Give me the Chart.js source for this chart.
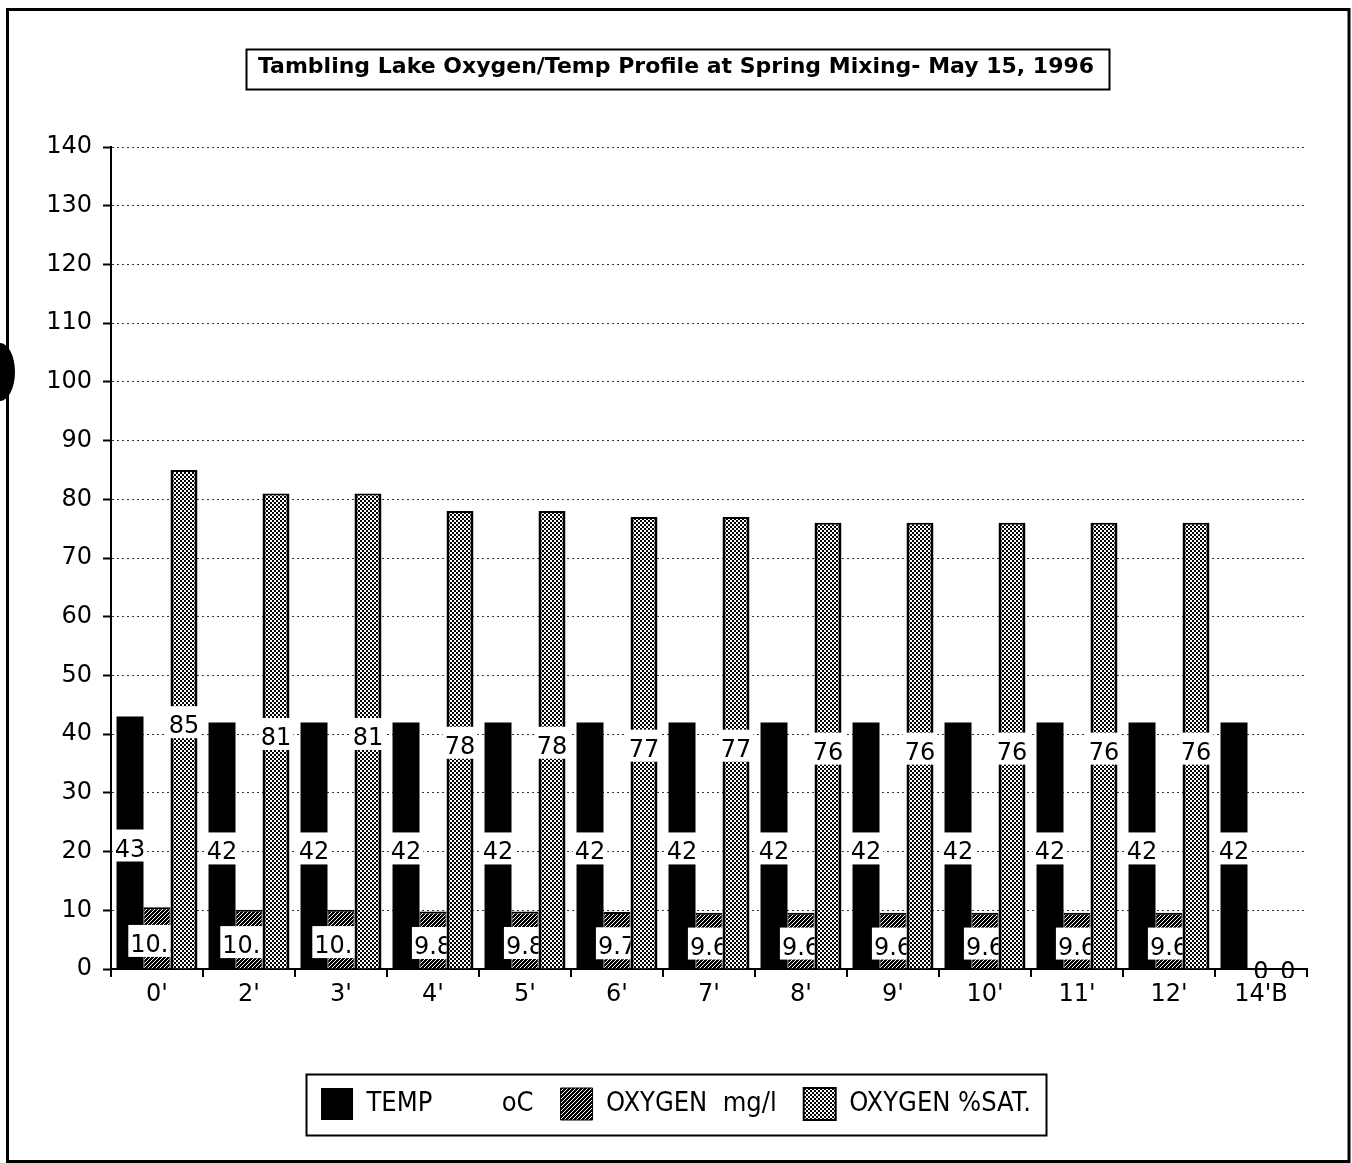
<!DOCTYPE html>
<html>
<head>
<meta charset="utf-8">
<script src="https://cdn.jsdelivr.net/npm/chart.js@4/dist/chart.umd.min.js"></script>
<style>
  html, body { margin: 0; padding: 0; background: #fff; }
  canvas { display: block; }
</style>
</head>
<body>
<canvas id="profile" width="1352" height="1163"></canvas>
<script>
// Sampling depths (feet) and the readings taken at each one
const depths = ["0'", "2'", "3'", "4'", "5'", "6'", "7'", "8'", "9'", "10'", "11'", "12'", "14'B"];
const tempC = [43, 42, 42, 42, 42, 42, 42, 42, 42, 42, 42, 42, 42];
const oxygenMgL = [10.5, 10.1, 10.1, 9.8, 9.8, 9.7, 9.6, 9.6, 9.6, 9.6, 9.6, 9.6, 0];
const oxygenSat = [85, 81, 81, 78, 78, 77, 77, 76, 76, 76, 76, 76, 0];

const seriesNames = ['TEMP         oC', 'OXYGEN  mg/l', 'OXYGEN %SAT.'];
const yMin = 0, yMax = 140, yStep = 10;
const chartTitle = 'Tambling Lake Oxygen/Temp Profile at Spring Mixing- May 15, 1996';

const BODY_FONT = '"DejaVu Sans", Verdana, sans-serif';
const NARROW_FONT = '"Liberation Sans Narrow", "DejaVu Sans Condensed", "Arial Narrow", sans-serif';
const TITLE_SIZE = 22;

const canvas = document.getElementById('profile');
const ctx = canvas.getContext('2d');

// Small repeating tiles used as bar fills
function makePattern(size, paint) {
  const tile = document.createElement('canvas');
  tile.width = size; tile.height = size;
  paint(tile.getContext('2d'));
  return ctx.createPattern(tile, 'repeat');
}
const hatchFill = makePattern(4, g => {
  g.fillStyle = '#000'; g.fillRect(0, 0, 4, 4);
  g.fillStyle = '#fff';
  for (let i = 0; i < 4; i++) g.fillRect(i, 3 - i, 1, 1);
});
const stippleFill = makePattern(4, g => {
  g.fillStyle = '#fff'; g.fillRect(0, 0, 4, 4);
  g.fillStyle = '#000';
  g.fillRect(0, 0, 2, 2); g.fillRect(2, 2, 2, 2);
});

// Value tags in white boxes, hidden where a later bar of the same group covers them
const valueLabels = {
  id: 'valueLabels',
  afterDatasetsDraw(chart) {
    const c = chart.ctx;
    const area = chart.chartArea;
    const metas = chart.data.datasets.map((d, i) => chart.getDatasetMeta(i));
    c.save();
    c.font = '24px ' + BODY_FONT;
    c.textAlign = 'center';
    c.textBaseline = 'alphabetic';
    metas.forEach((meta, di) => {
      meta.data.forEach((bar, idx) => {
        const value = chart.data.datasets[di].data[idx];
        const text = String(value);
        const w = c.measureText(text).width + 4;
        const flat = Math.abs(bar.base - bar.y) < 1;
        const baseline = (bar.y + bar.base) / 2 + (flat ? 10 : 14);
        c.save();
        c.beginPath();
        c.rect(area.left, area.top, area.right - area.left, area.bottom + (flat ? 9 : -1) - area.top);
        for (let k = di + 1; k < metas.length; k++) {
          const b = metas[k].data[idx];
          if (Math.abs(b.base - b.y) < 1) continue;
          c.rect(b.x - b.width / 2, b.y, b.width, b.base - b.y);
        }
        c.clip('evenodd');
        if (!flat) {
          c.fillStyle = '#fff';
          c.fillRect(bar.x - w / 2, baseline - 27, w, 32);
        }
        c.fillStyle = '#000';
        c.fillText(text, bar.x, baseline);
        c.restore();
      });
    });
    c.restore();
  }
};

// Page background, outer frame and the boxes round the title and the key
const pageFrame = {
  id: 'pageFrame',
  beforeDraw(chart) {
    const c = chart.ctx;
    c.save();
    c.fillStyle = '#fff';
    c.fillRect(0, 0, chart.width, chart.height);
    c.restore();
  },
  afterDraw(chart) {
    const c = chart.ctx;
    c.save();
    c.strokeStyle = '#000';

    // title box
    const tb = chart.titleBlock;
    const tOpts = chart.options.plugins.title;
    c.font = 'bold ' + TITLE_SIZE + 'px ' + BODY_FONT;
    const tw = c.measureText(chartTitle).width;
    const cx = (tb.left + tb.right) / 2;
    const midY = tb.top + tOpts.padding.top + TITLE_SIZE * 1.2 / 2;
    c.lineWidth = 2;
    c.strokeRect(Math.round(cx - tw / 2 - 12) + 0.5, Math.round(midY - 18) + 0.5, Math.round(tw + 27), 40);

    // key box
    const hb = chart.legend.legendHitBoxes;
    if (hb && hb.length) {
      const last = hb[hb.length - 1];
      const l = hb[0].left - 15, r = last.left + last.width + 15;
      const t = hb[0].top - 14, btm = hb[0].top + hb[0].height + 15;
      c.lineWidth = 2;
      c.strokeRect(Math.round(l) + 0.5, Math.round(t) + 0.5, Math.round(r - l), Math.round(btm - t));
    }

    // outer frame
    c.lineWidth = 3;
    c.strokeRect(7.5, 9.5, 1341.5, 1152);

    // binder hole at the left margin
    c.fillStyle = '#000';
    c.beginPath();
    c.ellipse(0, 372, 15, 29, 0, 0, Math.PI * 2);
    c.fill();
    c.restore();
  }
};

new Chart(ctx, {
  type: 'bar',
  data: {
    labels: depths,
    datasets: [
      { label: seriesNames[0], data: tempC, backgroundColor: '#000', borderColor: '#000', borderWidth: 0 },
      { label: seriesNames[1], data: oxygenMgL, backgroundColor: hatchFill, borderColor: '#000', borderWidth: { top: 2, left: 1, right: 1 } },
      { label: seriesNames[2], data: oxygenSat, backgroundColor: stippleFill, borderColor: '#000', borderWidth: { top: 2, left: 3, right: 3 } }
    ]
  },
  options: {
    responsive: false,
    animation: false,
    devicePixelRatio: 1,
    events: [],
    layout: { padding: { top: 20, left: 45, right: 45, bottom: 33 } },
    datasets: { bar: { categoryPercentage: 0.88, barPercentage: 1.0 } },
    scales: {
      x: {
        grid: { offset: true, drawOnChartArea: false, drawTicks: true, tickLength: 8, color: '#000', lineWidth: 2 },
        border: { color: '#000', width: 2 },
        ticks: { font: { family: BODY_FONT, size: 24 }, color: '#000', padding: 3, maxRotation: 0, autoSkip: false },
        afterFit(scale) { scale.height = 92; }
      },
      y: {
        min: yMin, max: yMax,
        ticks: { stepSize: yStep, font: { family: BODY_FONT, size: 24 }, color: '#000', padding: 11 },
        grid: {
          color: c => (c.tick && c.tick.value === 0) ? 'rgba(0,0,0,0)' : '#333',
          lineWidth: 1, tickColor: '#000', tickLength: 8, tickWidth: 2, tickBorderDash: []
        },
        border: { color: '#000', width: 2, dash: [2, 3] },
        afterFit(scale) { scale.width = 66; }
      }
    },
    plugins: {
      title: {
        display: true, text: chartTitle, color: '#000',
        font: { family: BODY_FONT, size: TITLE_SIZE, weight: 'bold', lineHeight: 1.2 },
        padding: { top: 34, bottom: 66.6 }
      },
      legend: {
        position: 'bottom',
        labels: {
          boxWidth: 32, boxHeight: 32, padding: 27, color: '#000',
          font: { family: NARROW_FONT, size: 27 }
        }
      },
      tooltip: { enabled: false }
    }
  },
  plugins: [pageFrame, valueLabels]
});
</script>
</body>
</html>
